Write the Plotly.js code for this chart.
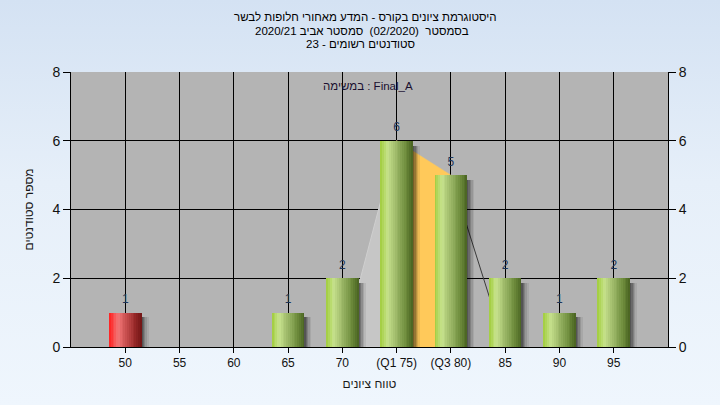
<!DOCTYPE html>
<html>
<head>
<meta charset="utf-8">
<script src="https://cdn.plot.ly/plotly-3.0.1.min.js"></script>
<style>
html,body{margin:0;padding:0;width:720px;height:405px;overflow:hidden;
background:linear-gradient(to bottom,#d4e2f3 0%,#e6eff9 45%,#eff6fd 100%);}
#chart{width:720px;height:405px;}
</style>
</head>
<body>
<div id="chart"></div>
<script>
// ---- data ----
const grades = [50, 55, 60, 65, 70, 75, 80, 85, 90, 95];
const tickLabels = ['50', '55', '60', '65', '70', '(Q1 75)', '(Q3 80)', '85', '90', '95'];
const counts = [1, 0, 0, 1, 2, 6, 5, 2, 1, 2];
const q1 = 75;
const q3 = 80;
const polyX = [70, 75, 80, 85];
const polyY = [0, 6, 5, 0];
const titleLines = [
  'היסטוגרמת ציונים בקורס - המדע מאחורי חלופות לבשר',
  'בסמסטר  (02/2020)  סמסטר אביב 2020/21',
  'סטודנטים רשומים - 23'
];
const taskLabel = 'במשימה : Final_A';
const xTitle = 'טווח ציונים';
const yTitle = 'מספר סטודנטים';

// ---- styling helpers ----
const FONT = 'Liberation Sans, Arial, DejaVu Sans, sans-serif';
const BAR_W = 3;
const greenStops = [[0, [160, 204, 58]], [0.22, [200, 227, 142]], [0.5, [154, 182, 102]], [0.78, [110, 140, 60]], [1, [72, 98, 32]]];
const redStops = [[0, [255, 30, 30]], [0.28, [242, 118, 118]], [0.55, [196, 76, 76]], [0.8, [150, 40, 40]], [1, [112, 20, 20]]];
function interp(stops, t) {
  for (let i = 1; i < stops.length; i++) {
    if (t <= stops[i][0]) {
      const a = stops[i - 1], b = stops[i];
      const f = (t - a[0]) / (b[0] - a[0]);
      const c = a[1].map((v, k) => Math.round(v + (b[1][k] - v) * f));
      return 'rgb(' + c.join(',') + ')';
    }
  }
  return 'rgb(' + stops[stops.length - 1][1].join(',') + ')';
}
const isRed = grades.map(g => g < 55);

const traces = [];
// background polygon (main axes, drawn below the overlay bars)
traces.push({
  x: [polyX[0], polyX[1], polyX[1], polyX[0]], y: [polyY[0], polyY[1], 0, polyY[0]],
  type: 'scatter', mode: 'lines', fill: 'toself', fillcolor: '#c6c6c6',
  line: {color: '#cfcfcf', width: 1}, hoverinfo: 'skip', xaxis: 'x', yaxis: 'y'
});
traces.push({
  x: [q1, q1, q3, q3, q1], y: [0, polyY[1], polyY[2], 0, 0],
  type: 'scatter', mode: 'lines', fill: 'toself', fillcolor: '#ffc95a',
  line: {color: '#ffc95a', width: 0.5}, hoverinfo: 'skip', xaxis: 'x', yaxis: 'y'
});
traces.push({
  x: [polyX[2], polyX[3]], y: [polyY[2], polyY[3]],
  type: 'scatter', mode: 'lines', line: {color: '#3a3a3a', width: 1},
  hoverinfo: 'skip', xaxis: 'x', yaxis: 'y'
});

// soft shadows (several translucent layers, widest first)
const shadowY = counts.map(v => v > 0 ? v - 0.14 : 0);
[[2.15, 'rgba(0,0,0,0.07)'], [2.0, 'rgba(0,0,0,0.10)'], [1.86, 'rgba(0,0,0,0.14)'], [1.74, 'rgba(0,0,0,0.18)'], [1.62, 'rgba(0,0,0,0.2)']].forEach(([end, col]) => {
  traces.push({
    type: 'bar', x: grades, y: shadowY, offset: 0, width: end,
    marker: {color: col, line: {width: 0}}, hoverinfo: 'skip', xaxis: 'x2', yaxis: 'y2'
  });
});

// gradient slices
const N = 18;
const sw = BAR_W / N;
for (let i = 0; i < N; i++) {
  const t = (i + 0.5) / N;
  traces.push({
    type: 'bar', x: grades, y: counts,
    offset: -BAR_W / 2 + i * sw, width: (i === N - 1) ? sw : sw * 1.4,
    marker: {color: isRed.map(r => interp(r ? redStops : greenStops, t)), line: {width: 0}},
    hoverinfo: 'skip', xaxis: 'x2', yaxis: 'y2'
  });
}

// value labels
const lx = [], ly = [], lt = [];
grades.forEach((g, i) => { if (counts[i] > 0) { lx.push(g); ly.push(counts[i]); lt.push(String(counts[i])); } });
traces.push({
  type: 'scatter', mode: 'markers+text', x: lx, y: ly, text: lt, textposition: 'top center',
  marker: {size: 9, color: 'rgba(0,0,0,0)'},
  textfont: {family: FONT, size: 12, color: '#1d3458'}, hoverinfo: 'skip',
  xaxis: 'x2', yaxis: 'y2', cliponaxis: false
});

const plotTop = 72, plotH = 405 - 72 - 58;
function py(pix) { return 1 + (plotTop - pix) / plotH; }
const annotations = titleLines.map((t, i) => ({
  text: t, xref: 'paper', yref: 'paper', x: ([365, 362, 360][i] - 71) / 597, y: py([17, 31, 44][i]),
  xanchor: 'center', yanchor: 'middle', showarrow: false,
  font: {family: FONT, size: 11.5, color: '#000'}
}));
annotations.push({
  text: taskLabel, xref: 'paper', yref: 'paper', x: (368 - 71) / 597, y: py(86),
  xanchor: 'center', yanchor: 'middle', showarrow: false,
  font: {family: FONT, size: 11.5, color: '#1a1030'}
});

const layout = {
  width: 720, height: 405,
  margin: {l: 71, r: 52, t: 72, b: 58},
  paper_bgcolor: 'rgba(0,0,0,0)', plot_bgcolor: '#b4b4b4',
  showlegend: false, barmode: 'overlay', bargap: 0,
  font: {family: FONT, color: '#000'},
  xaxis: {
    range: [45, 100], tickmode: 'array', tickvals: grades, ticktext: tickLabels,
    showgrid: true, gridcolor: '#000', gridwidth: 1, zeroline: false,
    showline: true, linecolor: '#000', linewidth: 1, mirror: false,
    ticks: 'outside', ticklen: 5, tickcolor: '#000',
    tickfont: {family: FONT, size: 12, color: '#111'},
    title: {text: xTitle, font: {family: FONT, size: 12, color: '#1a1a1a'}, standoff: 10},
    fixedrange: true
  },
  yaxis: {
    range: [0, 8], tickmode: 'array', tickvals: [0, 2, 4, 6, 8],
    showgrid: true, gridcolor: '#000', gridwidth: 1, zeroline: false,
    showline: true, linecolor: '#000', linewidth: 1,
    ticks: 'outside', ticklen: 7, tickcolor: '#000',
    tickfont: {family: FONT, size: 14, color: '#111'},
    title: {text: yTitle, font: {family: FONT, size: 12, color: '#1a1a1a'}, standoff: 16},
    fixedrange: true
  },
  xaxis2: {overlaying: 'x', range: [45, 100], visible: false, fixedrange: true},
  yaxis2: {
    overlaying: 'y', side: 'right', range: [0, 8], tickmode: 'array', tickvals: [0, 2, 4, 6, 8],
    showgrid: false, zeroline: false, showline: true, linecolor: '#000', linewidth: 1,
    ticks: 'outside', ticklen: 7, tickcolor: '#000',
    tickfont: {family: FONT, size: 14, color: '#111'}, fixedrange: true
  },
  annotations: annotations
};

Plotly.newPlot('chart', traces, layout, {displayModeBar: false, staticPlot: true});
</script>
</body>
</html>
